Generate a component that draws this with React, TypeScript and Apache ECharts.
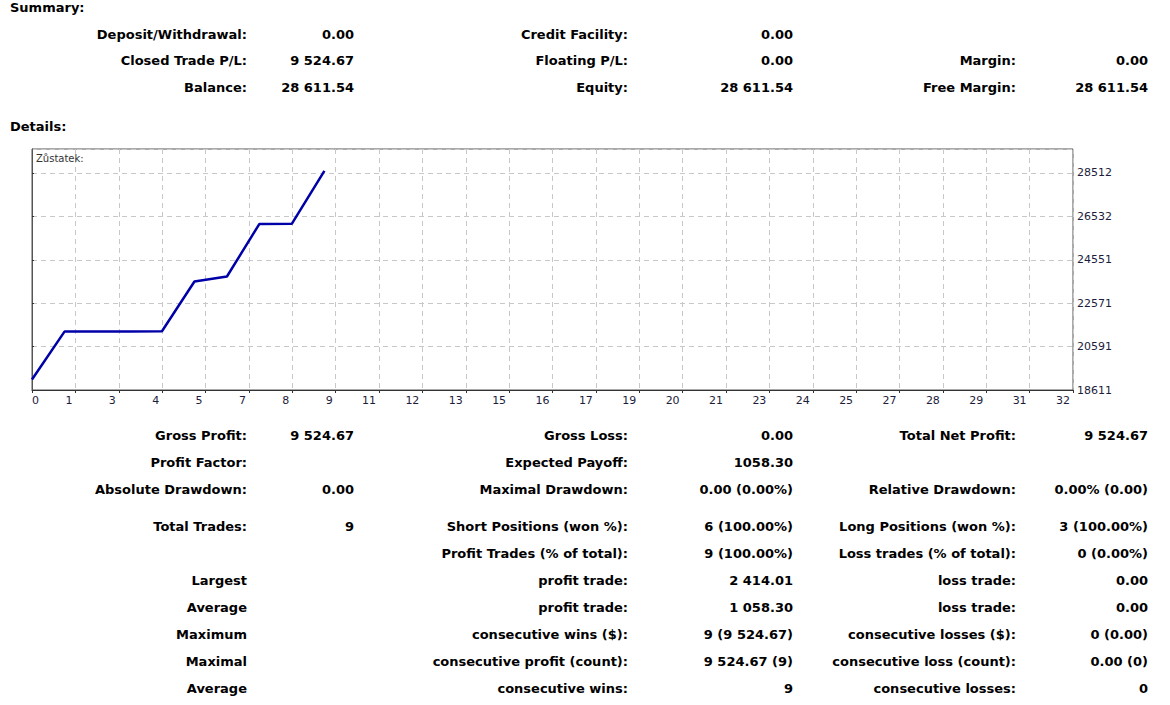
import React, { useEffect, useRef } from "react";
import * as echarts from "echarts";

// ---- Data ----
const tradeIndex = [0, 1, 2, 3, 4, 5, 6, 7, 8, 9];
const balance = [19086.87, 21275.0, 21280.0, 21285.0, 21290.0, 23560.0, 23790.0, 26190.0, 26197.53, 28611.54];
const chartTitle = "Zůstatek:";

const yMin = 18611;
const yStep = 1980.15;
const yMax = 29606.6;
const xStep = 1.335;
const xMax = 32.04;

const summaryTitle = "Summary:";
const detailsTitle = "Details:";

const summaryCol1Labels = ["Deposit/Withdrawal:", "Closed Trade P/L:", "Balance:"];
const summaryCol1Values = ["0.00", "9 524.67", "28 611.54"];
const summaryCol2Labels = ["Credit Facility:", "Floating P/L:", "Equity:"];
const summaryCol2Values = ["0.00", "0.00", "28 611.54"];
const summaryCol3Labels = ["", "Margin:", "Free Margin:"];
const summaryCol3Values = ["", "0.00", "28 611.54"];

const detailCol1Labels = ["Gross Profit:", "Profit Factor:", "Absolute Drawdown:", "Total Trades:", "", "Largest", "Average", "Maximum", "Maximal", "Average"];
const detailCol1Values = ["9 524.67", "", "0.00", "9", "", "", "", "", "", ""];
const detailCol2Labels = ["Gross Loss:", "Expected Payoff:", "Maximal Drawdown:", "Short Positions (won %):", "Profit Trades (% of total):", "profit trade:", "profit trade:", "consecutive wins ($):", "consecutive profit (count):", "consecutive wins:"];
const detailCol2Values = ["0.00", "1058.30", "0.00 (0.00%)", "6 (100.00%)", "9 (100.00%)", "2 414.01", "1 058.30", "9 (9 524.67)", "9 524.67 (9)", "9"];
const detailCol3Labels = ["Total Net Profit:", "", "Relative Drawdown:", "Long Positions (won %):", "Loss trades (% of total):", "loss trade:", "loss trade:", "consecutive losses ($):", "consecutive loss (count):", "consecutive losses:"];
const detailCol3Values = ["9 524.67", "", "0.00% (0.00)", "3 (100.00%)", "0 (0.00%)", "0.00", "0.00", "0 (0.00)", "0.00 (0)", "0"];

// ---- Layout ----
const summaryRowsY = [34, 60, 87];
const detailRowsY = [435, 462, 489, 526, 553, 580, 607, 634, 661, 688];
const colX = { l1: 247, v1: 354, l2: 628, v2: 793, l3: 1016, v3: 1148 };

const FONT = '"DejaVu Sans", Verdana, sans-serif';

function txt(text: string, x: number, y: number, align: string) {
  return {
    type: "text",
    x,
    y,
    silent: true,
    style: {
      text,
      align,
      verticalAlign: "middle",
      fontFamily: FONT,
      fontWeight: "bold",
      fontSize: 13,
      fill: "#000",
    },
  };
}

function buildTable(rowsY: number[], cols: string[][]) {
  const xs = [colX.l1, colX.v1, colX.l2, colX.v2, colX.l3, colX.v3];
  const out: any[] = [];
  rowsY.forEach((y, r) => {
    cols.forEach((col, c) => {
      const t = col[r];
      if (t) out.push(txt(t, xs[c], y, "right"));
    });
  });
  return out;
}

export default function App() {
  const ref = useRef<HTMLDivElement>(null);

  useEffect(() => {
    if (!ref.current) return;
    const chart = echarts.init(ref.current, undefined, { renderer: "svg" });

    const graphics: any[] = [
      txt(summaryTitle, 10, 7, "left"),
      txt(detailsTitle, 10, 126, "left"),
      ...buildTable(summaryRowsY, [summaryCol1Labels, summaryCol1Values, summaryCol2Labels, summaryCol2Values, summaryCol3Labels, summaryCol3Values]),
      ...buildTable(detailRowsY, [detailCol1Labels, detailCol1Values, detailCol2Labels, detailCol2Values, detailCol3Labels, detailCol3Values]),
    ];

    chart.setOption({
      animation: false,
      backgroundColor: "#ffffff",
      title: {
        text: chartTitle,
        left: 36,
        top: 153,
        padding: 0,
        textStyle: { fontFamily: FONT, fontSize: 10, fontWeight: "normal", color: "#333" },
      },
      grid: {
        left: 32,
        top: 149,
        width: 1041,
        height: 241,
        show: true,
        borderColor: "#555",
        borderWidth: 1,
        containLabel: false,
      },
      xAxis: {
        type: "value",
        min: 0,
        max: xMax,
        interval: xStep,
        axisLine: { show: true, lineStyle: { color: "#333", width: 1 } },
        axisTick: { show: true, length: 3, lineStyle: { color: "#333" } },
        axisLabel: {
          margin: 5,
          align: "right",
          alignMinLabel: "left",
          padding: [0, 3, 0, 0],
          fontFamily: FONT,
          fontSize: 11,
          color: "#1c1c3c",
          formatter: (v: number) => String(Math.round(v)),
        },
        splitLine: { show: true, lineStyle: { color: "#c8c8c8", type: [5, 4], width: 1 } },
      },
      yAxis: {
        type: "value",
        position: "right",
        min: yMin,
        max: yMax,
        interval: yStep,
        axisLine: { show: true, lineStyle: { color: "#555", width: 1 } },
        axisTick: { show: true, length: 2, lineStyle: { color: "#333" } },
        axisLabel: {
          margin: 4,
          showMaxLabel: false,
          padding: [0, 0, 4, 0],
          fontFamily: FONT,
          fontSize: 11,
          color: "#1c1c3c",
          formatter: (v: number) => String(Math.round(v)),
        },
        splitLine: { show: true, lineStyle: { color: "#c8c8c8", type: [5, 4], width: 1 } },
      },
      series: [
        {
          type: "line",
          data: tradeIndex.map((x, i) => [x, balance[i]]),
          symbol: "none",
          lineStyle: { color: "#0000a8", width: 2.5 },
          clip: true,
        },
      ],
      graphic: graphics,
    });

    return () => chart.dispose();
  }, []);

  return (
    <div
      ref={ref}
      style={{ position: "absolute", left: 0, top: 0, width: 1170, height: 705, background: "#fff" }}
    />
  );
}
